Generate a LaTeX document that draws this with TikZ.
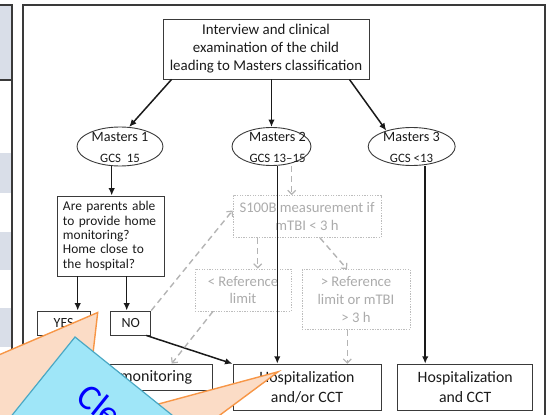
\documentclass[tikz,border=0pt]{standalone}
\usepackage{fontspec}
\setmainfont{Carlito}
\usetikzlibrary{arrows.meta,shapes.geometric,calc}
\definecolor{txt}{HTML}{1A1A1A}
\definecolor{boxc}{HTML}{3A3A3A}
\definecolor{gtxt}{HTML}{ABABAB}
\definecolor{dotc}{HTML}{BDBDBD}
\definecolor{garrc}{HTML}{B4B4B4}
\definecolor{rowgray}{HTML}{D9DEE8}
\definecolor{framec}{HTML}{3A3A3A}
\definecolor{peach}{HTML}{FBDCC6}
\definecolor{orangeline}{HTML}{F79646}
\definecolor{cyanfill}{HTML}{9FE6F8}
\definecolor{cyanline}{HTML}{4AA8C4}
\tikzset{
  box/.style={draw=boxc, line width=0.9pt, inner sep=0pt, text=txt, align=center},
  gbox/.style={draw=dotc, line width=0.8pt, dash pattern=on 1.3pt off 1.3pt, inner sep=0pt, text=gtxt, align=center},
  ell/.style={ellipse, draw=boxc, line width=0.9pt, inner sep=0pt},
  lbl/.style={inner sep=0pt, text=txt, align=center},
  arr/.style={draw=txt, line width=1.5pt, -{Latex[length=7.5pt,width=6.5pt]}},
  garr/.style={draw=garrc, line width=1.4pt, dash pattern=on 6pt off 4pt, -{Straight Barb[length=4pt,width=8pt,line width=1.2pt]}},
}
\begin{document}
\begin{tikzpicture}[x=1pt,y=-1pt]
\useasboundingbox (0,0) rectangle (547,415);
\clip (0,0) rectangle (547,415);
% left table panel
\fill[rowgray] (-5,5) rectangle (12,80);
\fill[rowgray] (-5,153.3) rectangle (12,193.3);
\fill[rowgray] (-5,231.7) rectangle (12,270);
\fill[rowgray] (-5,308.3) rectangle (12,346.7);
\fill[rowgray] (-5,385) rectangle (12,425);
\draw[framec, line width=1.8pt] (-5,5) -- (12,5) -- (12,440);
\draw[framec, line width=1.8pt] (-5,80) -- (12,80);
% diagram frame
\draw[framec, line width=2pt] (23,440) -- (23,5) -- (545,5) -- (545,440);
% nodes
\node[box, minimum width=206pt, minimum height=60pt, font=\fontsize{14.9}{18}\selectfont] (top) at (266,49)
  {Interview and clinical\\examination of the child\\leading to Masters classification};
\node[ell, minimum width=86pt, minimum height=39pt] (m1) at (120,146.5) {};
\node[ell, minimum width=79pt, minimum height=38pt] (m2) at (271.5,146.5) {};
\node[ell, minimum width=87pt, minimum height=38pt] (m3) at (411.7,146.5) {};
\node[lbl, font=\fontsize{14.2}{21}\selectfont] (m1t) at (120,147)
  {Masters 1\\{\fontsize{12.8}{21}\selectfont GCS\ \ 15}};
\node[lbl, font=\fontsize{14.2}{21}\selectfont] (m2t) at (277.5,147)
  {Masters 2\\{\fontsize{12.8}{21}\selectfont GCS 13–15}};
\node[lbl, font=\fontsize{14.2}{21}\selectfont] (m3t) at (411.5,147)
  {Masters 3\\{\fontsize{12.8}{21}\selectfont GCS <13}};
\node[box, minimum width=107pt, minimum height=80pt, text width=95pt, align=left, font=\fontsize{13.4}{14.4}\selectfont] (q) at (110.5,236)
  {Are parents able\\to provide home\\monitoring?\\Home close to\\the hospital?};
\node[box, minimum width=53pt, minimum height=24pt, font=\fontsize{14}{16}\selectfont] (yes) at (63.7,323) {YES};
\node[box, minimum width=40pt, minimum height=24pt, font=\fontsize{14}{16}\selectfont] (no) at (130.8,323) {NO};
\node[gbox, minimum width=148pt, minimum height=42pt, font=\fontsize{14.7}{17.7}\selectfont] (s100) at (307,216.5)
  {S100B measurement if\\mTBI < 3 h};
\node[gbox, minimum width=96pt, minimum height=42pt, font=\fontsize{14.7}{16.7}\selectfont] (lref) at (243,290)
  {< Reference\\limit};
\node[gbox, minimum width=108pt, minimum height=60pt, font=\fontsize{14.7}{17.8}\selectfont] (gref) at (356,299.5)
  {> Reference\\limit or mTBI\\> 3 h};
\node[box, minimum width=155pt, minimum height=26pt] (home) at (135,377) {};
\node[lbl, font=\fontsize{16}{20}\selectfont] (homet) at (156,377.5) {monitoring};
\node[box, minimum width=148pt, minimum height=46pt, font=\fontsize{15.8}{19.8}\selectfont] (hosp1) at (307,387.2)
  {Hospitalization\\and/or CCT};
\node[box, minimum width=135pt, minimum height=46pt, font=\fontsize{15.8}{19.8}\selectfont] (hosp2) at (465.2,387.2)
  {Hospitalization\\and CCT};
% helper coordinates for vertical connectors
\coordinate (cq) at ($(q.north)+(1.2,0)$);
\coordinate (cyes) at ($(q.south)+(-32.8,0)$);
\coordinate (cno) at ($(q.south)+(16.2,0)$);
\coordinate (ch1) at ($(hosp1.north)+(-29.7,0)$);
\coordinate (ch2) at ($(hosp2.north)+(-40,0)$);
\coordinate (cs1) at ($(s100.north)+(-15.3,0)$);
\coordinate (cl1) at ($(lref.north)+(14.7,0)$);
\coordinate (cg1) at ($(gref.south)+(-8.7,0)$);
% connectors
\draw[arr] ($(top.south west)+(9,0)$) -- (m1.65);
\draw[arr] (m2.north |- top.south) -- (m2.north);
\draw[arr] ($(top.south east)+(-20,0)$) -- (m3.148);
\draw[arr] (cq |- m1.south) -- (cq);
\draw[arr] (cyes) -- (cyes |- yes.north);
\draw[arr] (cno) -- (cno |- no.north);
\draw[arr] ($(no.south east)+(-5,0)$) -- (hosp1.north west);
\draw[arr] (ch1 |- m2.south) -- (ch1);
\draw[arr] (ch2 |- m3.south) -- (ch2);
\draw[garr] (no.north east) -- ($(s100.west)+(0,-6)$);
\draw[garr] (cs1 |- m2.south) -- (cs1);
\draw[garr] (cl1 |- s100.south) -- (cl1);
\draw[garr] ($(s100.south)+(13,0)$) -- ($(gref.north)+(-9,0)$);
\draw[garr] (cg1) -- (cg1 |- hosp1.north);
\draw[garr] ($(lref.south)+(-30,0)$) -- ($(home.north)+(36.7,0)$);
% overlay callout
\draw[fill=peach, draw=orangeline, line width=1.4pt, line join=miter]
  (-5,356.6) -- (97.7,312.5) -- (92,362) -- (150,406.3) -- (278.3,371.7) -- (220,415) -- (214,420) -- (-5,420) -- cycle;
\draw[fill=cyanfill, draw=cyanline, line width=1.2pt]
  (75,337) -- (269.75,493.75) -- (144.35,649.55) -- (-50.4,492.8) -- cycle;
\node[rotate=-38.8, anchor=base west, inner sep=0pt, text=blue, font=\fontsize{36}{36}\selectfont] (clt) at (74,400) {Cle};
\end{tikzpicture}
\end{document}
